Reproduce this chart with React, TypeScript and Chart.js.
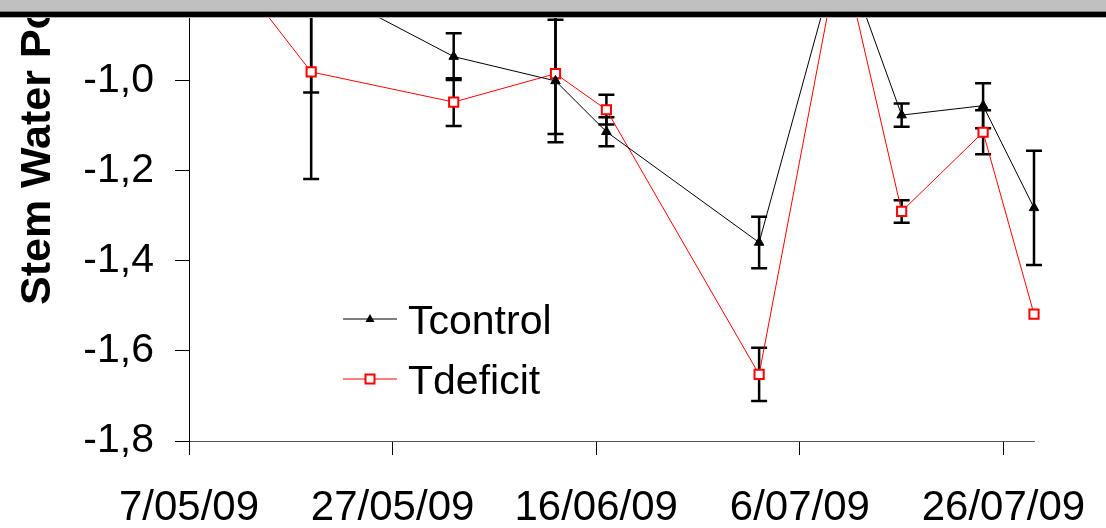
import React, { useEffect, useRef } from 'react';
import { Chart, registerables } from 'chart.js';

Chart.register(...registerables);

// ---- data ----
const dates = ['7/05/09', '19/05/09', '2/06/09', '12/06/09', '17/06/09', '2/07/09', '10/07/09', '16/07/09', '24/07/09', '29/07/09'];
const tcontrol = [-0.6, -0.78, -0.946, -1.0, -1.113, -1.359, -0.7, -1.076, -1.055, -1.282];
const tcontrolErr = [0.05, 0.246, 0.052, 0.136, 0.032, 0.057, 0.05, 0.026, 0.05, 0.127];
const tdeficit = [-0.63, -0.98, -1.047, -0.984, -1.064, -1.652, -0.7, -1.29, -1.114, -1.518];
const tdeficitErr = [0.05, 0.238, 0.053, 0.134, 0.033, 0.059, 0.05, 0.025, 0.049, 0.0];
const seriesNames = ['Tcontrol', 'Tdeficit'];
const xTickLabels = ['7/05/09', '27/05/09', '16/06/09', '6/07/09', '26/07/09'];
const xStart = '7/05/09';
const xEnd = '29/07/09';
const yTicks = [-1.8, -1.6, -1.4, -1.2, -1.0];
const yMin = -1.8;
const yMax = -0.858;
const yTitle = 'Stem Water Potential (MPa)';

const FONT = '"Liberation Sans", Arial, sans-serif';

function dayOf(s: string): number {
  const [d, m, y] = s.split('/').map(Number);
  const [d0, m0, y0] = xStart.split('/').map(Number);
  return Math.round((Date.UTC(2000 + y, m - 1, d) - Date.UTC(2000 + y0, m0 - 1, d0)) / 86400000);
}

const errors = [tcontrolErr, tdeficitErr];

const errorBarPlugin = {
  id: 'errorBars',
  beforeDatasetsDraw(chart: any) {
    const { ctx, chartArea, scales } = chart;
    ctx.save();
    ctx.beginPath();
    ctx.rect(chartArea.left, chartArea.top, chartArea.right - chartArea.left + 10, chartArea.bottom - chartArea.top);
    ctx.clip();
    ctx.strokeStyle = '#000';
    ctx.lineWidth = 2.5;
    chart.data.datasets.forEach((ds: any, di: number) => {
      ds.data.forEach((p: any, i: number) => {
        const e = errors[di][i];
        if (!e) return;
        const x = scales.x.getPixelForValue(p.x);
        const y1 = scales.y.getPixelForValue(p.y + e);
        const y2 = scales.y.getPixelForValue(p.y - e);
        ctx.beginPath();
        ctx.moveTo(x, y1);
        ctx.lineTo(x, y2);
        ctx.moveTo(x - 8, y1);
        ctx.lineTo(x + 8, y1);
        ctx.moveTo(x - 8, y2);
        ctx.lineTo(x + 8, y2);
        ctx.stroke();
      });
    });
    ctx.restore();
  },
};

const decorPlugin = {
  id: 'decor',
  afterDraw(chart: any) {
    const { ctx } = chart;
    const W = chart.width;
    ctx.save();
    // legend
    const legendItems = [
      { y: 319, color: '#000', style: 'triangle' },
      { y: 379, color: '#ff0000', style: 'rect' },
    ];
    legendItems.forEach((it, i) => {
      ctx.strokeStyle = it.color;
      ctx.lineWidth = 1;
      ctx.beginPath();
      ctx.moveTo(343, it.y);
      ctx.lineTo(397, it.y);
      ctx.stroke();
      if (it.style === 'triangle') {
        ctx.fillStyle = '#000';
        ctx.beginPath();
        ctx.moveTo(370, it.y - 5);
        ctx.lineTo(374.5, it.y + 3);
        ctx.lineTo(365.5, it.y + 3);
        ctx.closePath();
        ctx.fill();
      } else {
        ctx.fillStyle = '#fff';
        ctx.fillRect(365.5, it.y - 4.5, 9, 9);
        ctx.strokeStyle = '#ff0000';
        ctx.lineWidth = 2;
        ctx.strokeRect(365.5, it.y - 4.5, 9, 9);
      }
      ctx.fillStyle = '#000';
      ctx.font = `41px ${FONT}`;
      ctx.textAlign = 'left';
      ctx.textBaseline = 'alphabetic';
      ctx.fillText(seriesNames[i], 408, it.y + 15);
    });
    // y title
    ctx.save();
    ctx.translate(50, 305);
    ctx.rotate(-Math.PI / 2);
    ctx.font = `bold 43px ${FONT}`;
    ctx.fillStyle = '#000';
    ctx.textAlign = 'left';
    ctx.textBaseline = 'alphabetic';
    ctx.fillText(yTitle, 0, 0);
    ctx.restore();
    // top band
    ctx.fillStyle = '#c0c0c0';
    ctx.fillRect(0, 0, W, 11);
    ctx.fillStyle = '#7a7a7a';
    ctx.fillRect(0, 11, W, 1);
    ctx.fillStyle = '#000';
    ctx.fillRect(0, 12, W, 5);
    ctx.fillStyle = '#b0b0b0';
    ctx.fillRect(0, 17, W, 1);
    ctx.restore();
  },
};

export default function App() {
  const ref = useRef<HTMLCanvasElement | null>(null);
  useEffect(() => {
    if (!ref.current) return;
    const chart = new Chart(ref.current, {
      type: 'line',
      data: {
        datasets: [
          {
            label: seriesNames[0],
            data: dates.map((d, i) => ({ x: dayOf(d), y: tcontrol[i] })),
            borderColor: '#000',
            backgroundColor: '#000',
            borderWidth: 1,
            pointStyle: 'triangle',
            pointRadius: 5.5,
            pointBorderWidth: 1,
            pointBackgroundColor: '#000',
            pointBorderColor: '#000',
            tension: 0,
            clip: { left: 0, top: 0, right: 12, bottom: 0 },
          },
          {
            label: seriesNames[1],
            data: dates.map((d, i) => ({ x: dayOf(d), y: tdeficit[i] })),
            borderColor: '#ff0000',
            backgroundColor: '#fff',
            borderWidth: 1,
            pointStyle: 'rect',
            pointRadius: 6.5,
            pointBorderWidth: 2,
            pointBackgroundColor: '#fff',
            pointBorderColor: '#ff0000',
            tension: 0,
            clip: { left: 0, top: 0, right: 12, bottom: 0 },
          },
        ],
      },
      options: {
        animation: false,
        responsive: false,
        devicePixelRatio: 1,
        layout: { padding: { top: 17, right: 72, left: 0, bottom: 0 } },
        plugins: { legend: { display: false }, tooltip: { enabled: false } },
        scales: {
          x: {
            type: 'linear',
            min: dayOf(xStart),
            max: dayOf(xEnd),
            afterBuildTicks: (s: any) => {
              s.ticks = xTickLabels.map((l) => ({ value: dayOf(l) }));
            },
            afterFit: (s: any) => {
              s.height = 87;
              s.paddingLeft = 0;
              s.paddingRight = 0;
              s.paddingTop = 0;
              s.paddingBottom = 0;
            },
            ticks: {
              autoSkip: false,
              maxRotation: 0,
              minRotation: 0,
              padding: 28,
              color: '#000',
              font: { family: FONT, size: 42 },
              callback: (v: any) => {
                const l = xTickLabels.find((t) => dayOf(t) === v);
                return l ?? '';
              },
            },
            grid: { drawOnChartArea: false, drawTicks: true, tickLength: 14, color: '#000', lineWidth: 1 },
            border: { color: '#555', width: 1 },
          },
          y: {
            type: 'linear',
            min: yMin,
            max: yMax,
            afterBuildTicks: (s: any) => {
              s.ticks = yTicks.map((v) => ({ value: v }));
            },
            afterFit: (s: any) => {
              s.width = 189;
              s.paddingLeft = 0;
              s.paddingRight = 0;
              s.paddingTop = 0;
              s.paddingBottom = 0;
            },
            ticks: {
              padding: 21,
              color: '#000',
              font: { family: FONT, size: 41 },
              callback: (v: any) => Number(v).toFixed(1).replace('.', ','),
            },
            grid: { drawOnChartArea: false, drawTicks: true, tickLength: 14, color: '#000', lineWidth: 1 },
            border: { color: '#000', width: 1 },
          },
        },
      },
      plugins: [errorBarPlugin, decorPlugin],
    } as any);
    return () => chart.destroy();
  }, []);
  return (
    <div style={{ position: 'fixed', left: 0, top: 0, width: 1106, height: 528, background: '#fff' }}>
      <canvas ref={ref} width={1106} height={528} />
    </div>
  );
}
